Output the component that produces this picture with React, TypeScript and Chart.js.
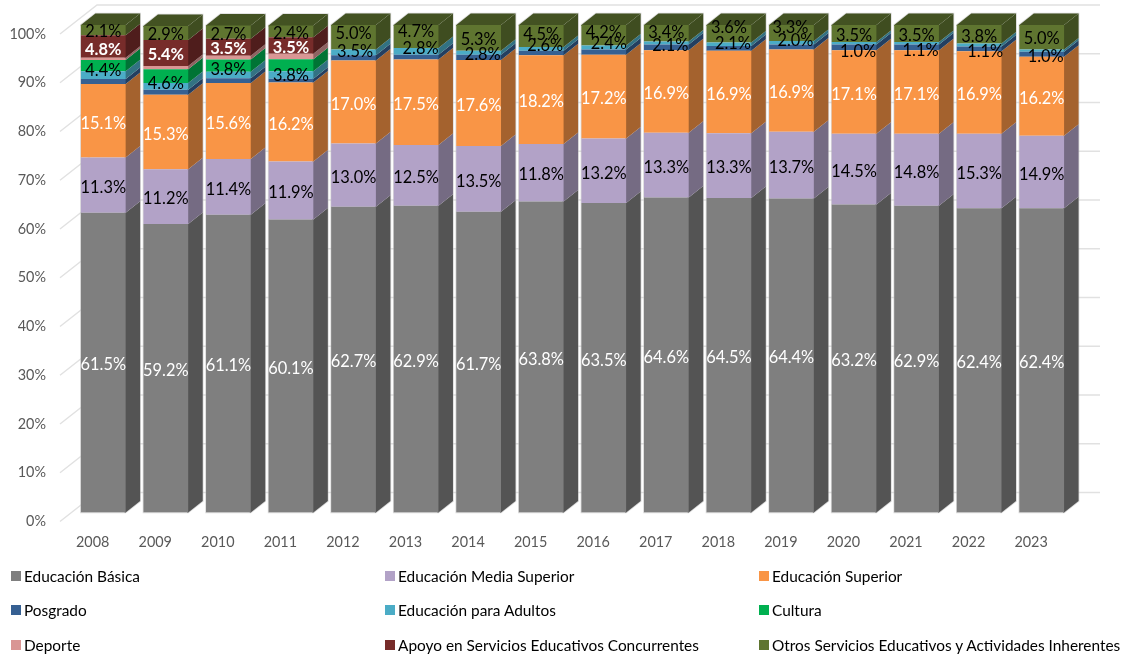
import React, { useEffect, useRef } from "react";
import { Chart, registerables } from "chart.js";

Chart.register(...registerables);

const years = ["2008","2009","2010","2011","2012","2013","2014","2015","2016","2017","2018","2019","2020","2021","2022","2023"];

const basica = [61.5,59.2,61.1,60.1,62.7,62.9,61.7,63.8,63.5,64.6,64.5,64.4,63.2,62.9,62.4,62.4];
const mediaSuperior = [11.3,11.2,11.4,11.9,13.0,12.5,13.5,11.8,13.2,13.3,13.3,13.7,14.5,14.8,15.3,14.9];
const superior = [15.1,15.3,15.6,16.2,17.0,17.5,17.6,18.2,17.2,16.9,16.9,16.9,17.1,17.1,16.9,16.2];
const posgrado = [1.0,1.0,1.0,0.8,1.1,1.0,1.1,0.9,1.1,1.2,1.0,1.0,1.2,1.2,1.0,1.0];
const adultos = [1.6,1.4,1.3,1.5,1.2,1.4,0.8,0.8,0.8,0.6,0.7,0.7,0.5,0.5,0.6,0.5];
const cultura = [2.3,2.8,2.5,2.5,0,0,0,0,0,0,0,0,0,0,0,0];
const deporte = [0.5,0.7,0.8,1.1,0,0,0,0,0,0,0,0,0,0,0,0];
const apoyo = [4.6,5.3,3.5,3.4,0,0,0,0,0,0,0,0,0,0,0,0];
const otros = [2.1,2.9,2.7,2.4,5.0,4.7,5.3,4.5,4.2,3.4,3.6,3.3,3.5,3.5,3.8,5.0];

// Printed data labels (these differ from the drawn height on the thin layers)
const N = null;
const lblPosgrado = [N,N,N,N,N,N,N,N,N,N,N,N,"1.0%","1.1%","1.1%","1.0%"];
const lblAdultos = [N,N,N,N,"3.5%","2.8%","2.8%","2.6%","2.4%","2.1%","2.1%","2.0%",N,N,N,N];
const lblCultura = ["4.4%","4.6%","3.8%","3.8%",N,N,N,N,N,N,N,N,N,N,N,N];
const lblApoyo = ["4.8%","5.4%","3.5%","3.5%",N,N,N,N,N,N,N,N,N,N,N,N];

const pct = (a: number[]) => a.map((v) => v.toFixed(1) + "%");

// Manual label placement, in pixels, relative to the centre of the segment
const nudgeY: Record<string, number[]> = {
  otros: [1,0.7,1.2,1.2,-4,-5.6,1,-2.7,-4,-2,-7,-6.3,1,1.2,1.8,1],
  adultos: [0,0,0,0,-2,-3.7,0.6,-4,-5,1.5,-1.7,-2.7,0,0,0,0],
  posgrado: [0,0,0,0,0,0,0,0,0,0,0,0,3,1.8,1.7,1.7],
  apoyo: [2,0.7,1,1,0,0,0,0,0,0,0,0,0,0,0,0],
  cultura: [3.6,6.8,3.1,9.2,0,0,0,0,0,0,0,0,0,0,0,0],
};
const nudgeX: Record<string, number[]> = {
  adultos: [0,0,0,0,1.5,4.5,4,4,5,4,4,4,0,0,0,0],
  posgrado: [0,0,0,0,0,0,0,0,0,0,0,0,4,4,6,4],
  otros: [0,0,0,0,0,0,0,0,0,0,0,-1,0,0,0,0],
};

const FONT = "Lato";
const DX = 14.5;
const DY = 11.5;

const seriesDefs = [
  { key: "basica", label: "Educación Básica", data: basica, color: "#7f7f7f", labels: pct(basica), text: "#ffffff", bold: false },
  { key: "media", label: "Educación Media Superior", data: mediaSuperior, color: "#b2a2c7", labels: pct(mediaSuperior), text: "#000000", bold: false },
  { key: "superior", label: "Educación Superior", data: superior, color: "#f99546", labels: pct(superior), text: "#ffffff", bold: false },
  { key: "posgrado", label: "Posgrado", data: posgrado, color: "#366092", labels: lblPosgrado, text: "#000000", bold: false },
  { key: "adultos", label: "Educación para Adultos", data: adultos, color: "#4bacc6", labels: lblAdultos, text: "#000000", bold: false },
  { key: "cultura", label: "Cultura", data: cultura, color: "#00b050", labels: lblCultura, text: "#000000", bold: false },
  { key: "deporte", label: "Deporte", data: deporte, color: "#d99694", labels: years.map(() => null), text: "#000000", bold: false },
  { key: "apoyo", label: "Apoyo en Servicios Educativos Concurrentes", data: apoyo, color: "#772c2a", labels: lblApoyo, text: "#ffffff", bold: true },
  { key: "otros", label: "Otros Servicios Educativos y Actividades Inherentes", data: otros, color: "#5f7530", labels: pct(otros), text: "#000000", bold: false },
];

const shade = (hex: string, f: number) => {
  const n = parseInt(hex.slice(1), 16);
  const c = (s: number) => Math.round(((n >> s) & 255) * f);
  return `rgb(${c(16)},${c(8)},${c(0)})`;
};

const depthPlugin = {
  id: "depth",
  beforeDatasetsDraw(chart: any) {
    const { ctx, scales } = chart;
    const y = scales.y;
    ctx.save();
    // walls and gridlines
    ctx.strokeStyle = "#e1e1e1";
    ctx.lineWidth = 1.4;
    y.ticks.forEach((t: any) => {
      const py = y.getPixelForValue(t.value);
      ctx.beginPath();
      ctx.moveTo(60, py + 9);
      ctx.lineTo(97, py - 20);
      ctx.lineTo(1100, py - 20);
      ctx.stroke();
    });
    const topIndex = years.map((_, i) => {
      let last = 0;
      seriesDefs.forEach((s, k) => { if (s.data[i] > 0) last = k; });
      return last;
    });
    // soft halo around each whole column
    years.forEach((_, i) => {
      const topBar = chart.getDatasetMeta(topIndex[i]).data[i].getProps(["x", "y", "width"], true);
      const floor = chart.getDatasetMeta(0).data[i].getProps(["base"], true).base;
      const l = topBar.x - topBar.width / 2;
      const r = topBar.x + topBar.width / 2;
      ctx.strokeStyle = "rgba(190,190,190,0.55)";
      ctx.lineWidth = 1.6;
      ctx.beginPath();
      ctx.moveTo(l, floor);
      ctx.lineTo(l, topBar.y);
      ctx.lineTo(l + DX, topBar.y - DY);
      ctx.lineTo(r + DX, topBar.y - DY);
      ctx.lineTo(r + DX, floor - DY);
      ctx.lineTo(r, floor);
      ctx.closePath();
      ctx.stroke();
    });
    // side and top faces
    seriesDefs.forEach((s, k) => {
      const meta = chart.getDatasetMeta(k);
      meta.data.forEach((bar: any, i: number) => {
        if (s.data[i] <= 0) return;
        const { x, y: top, base, width } = bar.getProps(["x", "y", "base", "width"], true);
        const right = x + width / 2;
        const left = x - width / 2;
        ctx.fillStyle = shade(s.color, 0.66);
        ctx.beginPath();
        ctx.moveTo(right - 1, top);
        ctx.lineTo(right, top);
        ctx.lineTo(right + DX, top - DY);
        ctx.lineTo(right + DX, base - DY);
        ctx.lineTo(right, base);
        ctx.lineTo(right - 1, base);
        ctx.closePath();
        ctx.fill();
        if (topIndex[i] === k) {
          ctx.fillStyle = shade(s.color, 0.7);
          ctx.beginPath();
          ctx.moveTo(left, top + 1);
          ctx.lineTo(left, top);
          ctx.lineTo(left + DX, top - DY);
          ctx.lineTo(right + DX, top - DY);
          ctx.lineTo(right, top);
          ctx.lineTo(right, top + 1);
          ctx.closePath();
          ctx.fill();
        }
      });
    });
    ctx.restore();
  },
  afterDatasetsDraw(chart: any) {
    const { ctx } = chart;
    ctx.save();
    ctx.textAlign = "center";
    ctx.textBaseline = "middle";
    seriesDefs.forEach((s, k) => {
      const meta = chart.getDatasetMeta(k);
      meta.data.forEach((bar: any, i: number) => {
        const txt = s.labels[i];
        if (!txt) return;
        const { x, y: top, base } = bar.getProps(["x", "y", "base"], true);
        const ny = nudgeY[s.key] ? nudgeY[s.key][i] + 1 : 2.5;
        const nx = nudgeX[s.key] ? nudgeX[s.key][i] : 0;
        ctx.font = `${s.bold ? "bold " : ""}16.4px ${FONT}`;
        ctx.fillStyle = s.text;
        ctx.fillText(txt, x + nx, (top + base) / 2 + ny);
      });
    });
    ctx.restore();
  },
};

export default function App() {
  const ref = useRef<HTMLCanvasElement | null>(null);
  useEffect(() => {
    const chart = new Chart(ref.current as HTMLCanvasElement, {
      type: "bar",
      data: {
        labels: years,
        datasets: seriesDefs.map((s) => ({
          label: s.label,
          data: s.data,
          backgroundColor: s.color,
          borderWidth: 0,
          barPercentage: 1,
          categoryPercentage: 0.715,
        })),
      },
      options: {
        animation: false,
        responsive: false,
        devicePixelRatio: 1,
        layout: { padding: { left: 0, right: 53, top: 25, bottom: 0 } },
        plugins: { legend: { display: false }, tooltip: { enabled: false } },
        scales: {
          x: {
            stacked: true,
            grid: { display: false, drawTicks: false },
            border: { display: false },
            afterFit: (s: any) => { s.height = 142.5; s.paddingLeft = 0; s.paddingRight = 0; },
            ticks: { color: "#595959", font: { family: FONT, size: 14.4 }, padding: 21, labelOffset: -10.6, maxRotation: 0, autoSkip: false },
          },
          y: {
            stacked: true,
            min: 0,
            max: 100,
            grid: { display: false, drawTicks: false },
            border: { display: false },
            afterFit: (s: any) => { s.width = 72; s.paddingTop = 0; s.paddingBottom = 0; },
            ticks: { stepSize: 10, color: "#595959", font: { family: FONT, size: 14.4 }, padding: 26, labelOffset: 9, callback: (v: any) => v + "%" },
          },
        },
      },
      plugins: [depthPlugin],
    } as any);
    return () => chart.destroy();
  }, []);

  const colX = [11, 385, 759];
  const rowY = [576, 610, 645];
  return (
    <div style={{ position: "absolute", left: 0, top: 0, width: 1126, height: 655, background: "#fff", overflow: "hidden" }}>
      <canvas ref={ref} width={1126} height={655} style={{ display: "block" }} />
      {seriesDefs.map((s, k) => (
        <div key={s.key} style={{ position: "absolute", left: colX[k % 3], top: rowY[Math.floor(k / 3)] - 10.5, height: 20, display: "flex", alignItems: "center", whiteSpace: "nowrap", font: `15.4px ${FONT}`, color: "#000" }}>
          <span style={{ display: "inline-block", width: 10, height: 10, background: s.color, marginRight: 3 }} />
          {s.label}
        </div>
      ))}
    </div>
  );
}
